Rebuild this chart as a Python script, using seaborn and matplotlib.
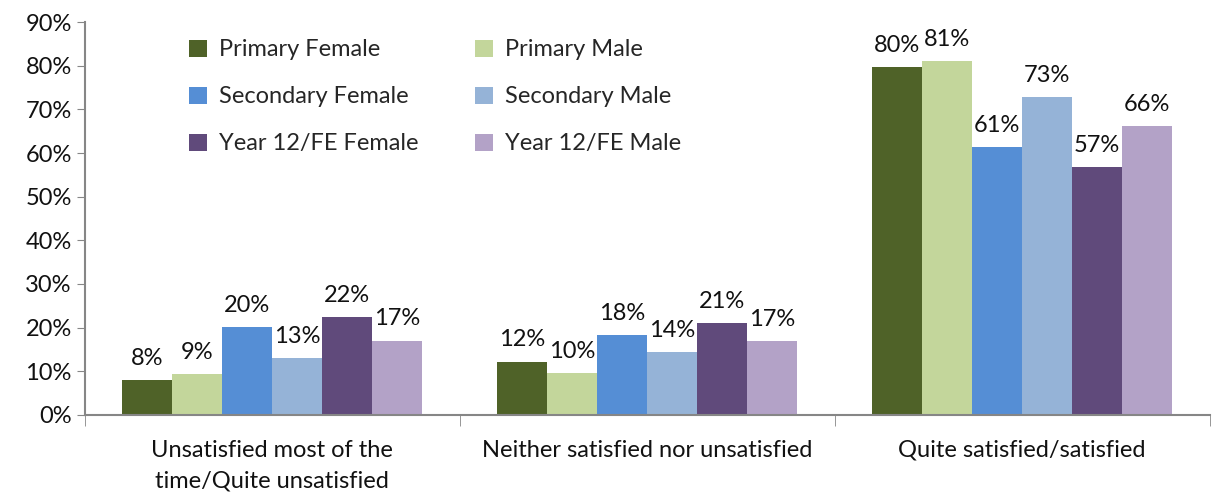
import numpy as np
import pandas as pd
import matplotlib
matplotlib.use("Agg")
import matplotlib.pyplot as plt
import seaborn as sns
from matplotlib.ticker import PercentFormatter, FixedLocator

categories = [
    "Unsatisfied most of the\ntime/Quite unsatisfied",
    "Neither satisfied nor unsatisfied",
    "Quite satisfied/satisfied",
]
groups = [
    "Primary Female", "Primary Male",
    "Secondary Female", "Secondary Male",
    "Year 12/FE Female", "Year 12/FE Male",
]
primary_female = [8.0, 12.2, 79.8]
primary_male = [9.4, 9.6, 81.1]
secondary_female = [20.2, 18.3, 61.4]
secondary_male = [12.9, 14.3, 72.8]
year12_female = [22.4, 21.0, 56.7]
year12_male = [17.0, 16.9, 66.1]
colors = ["#4F6228", "#C3D69B", "#558ED5", "#95B3D7", "#604A7B", "#B3A2C7"]

series = [primary_female, primary_male, secondary_female,
          secondary_male, year12_female, year12_male]
rows = []
for g, vals in zip(groups, series):
    for c, v in zip(categories, vals):
        rows.append({"category": c, "group": g, "value": v})
df = pd.DataFrame(rows)

sns.set_style("white")
plt.rcParams["font.family"] = ["Lato", "DejaVu Sans"]
fs = 17

fig = plt.figure(figsize=(12.12, 4.92), dpi=100)
ax = fig.add_axes([0.070, 0.157, 0.928, 0.798])

sns.barplot(data=df, x="category", y="value", hue="group",
            hue_order=groups, order=categories, palette=colors,
            saturation=1, width=0.8, linewidth=0, ax=ax)

for cont in ax.containers:
    ax.bar_label(cont, labels=[f"{v:.0f}%" for v in cont.datavalues],
                 padding=8, fontsize=fs, color="#111111")

ax.set_ylim(0, 90)
ax.set_yticks(np.arange(0, 91, 10))
ax.yaxis.set_major_formatter(PercentFormatter(decimals=0))
ax.set_xlim(-0.5, 2.5)
ax.set_xlabel("")
ax.set_ylabel("")

ax.tick_params(axis="y", left=True, length=6, color="#868686",
               labelsize=fs, labelcolor="#111111")
ax.tick_params(axis="x", which="major", length=0, labelsize=fs,
               labelcolor="#111111", pad=18)
for lbl in ax.get_xticklabels():
    lbl.set_linespacing(1.6)
ax.xaxis.set_minor_locator(FixedLocator([-0.5, 0.5, 1.5, 2.5]))
ax.tick_params(axis="x", which="minor", bottom=True, length=8,
               color="#868686")

for side in ["top", "right"]:
    ax.spines[side].set_visible(False)
for side in ["left", "bottom"]:
    ax.spines[side].set_color("#868686")
    ax.spines[side].set_linewidth(1.5)

handles, labels = ax.get_legend_handles_labels()
order = [0, 2, 4, 1, 3, 5]
ax.legend([handles[i] for i in order], [labels[i] for i in order],
          ncol=2, frameon=False, fontsize=fs, loc="upper left",
          bbox_to_anchor=(0.074, 1.01), handlelength=0.75, handleheight=0.75,
          labelspacing=1.1, columnspacing=2.4, handletextpad=0.5)

plt.savefig("out.png", dpi=100)
